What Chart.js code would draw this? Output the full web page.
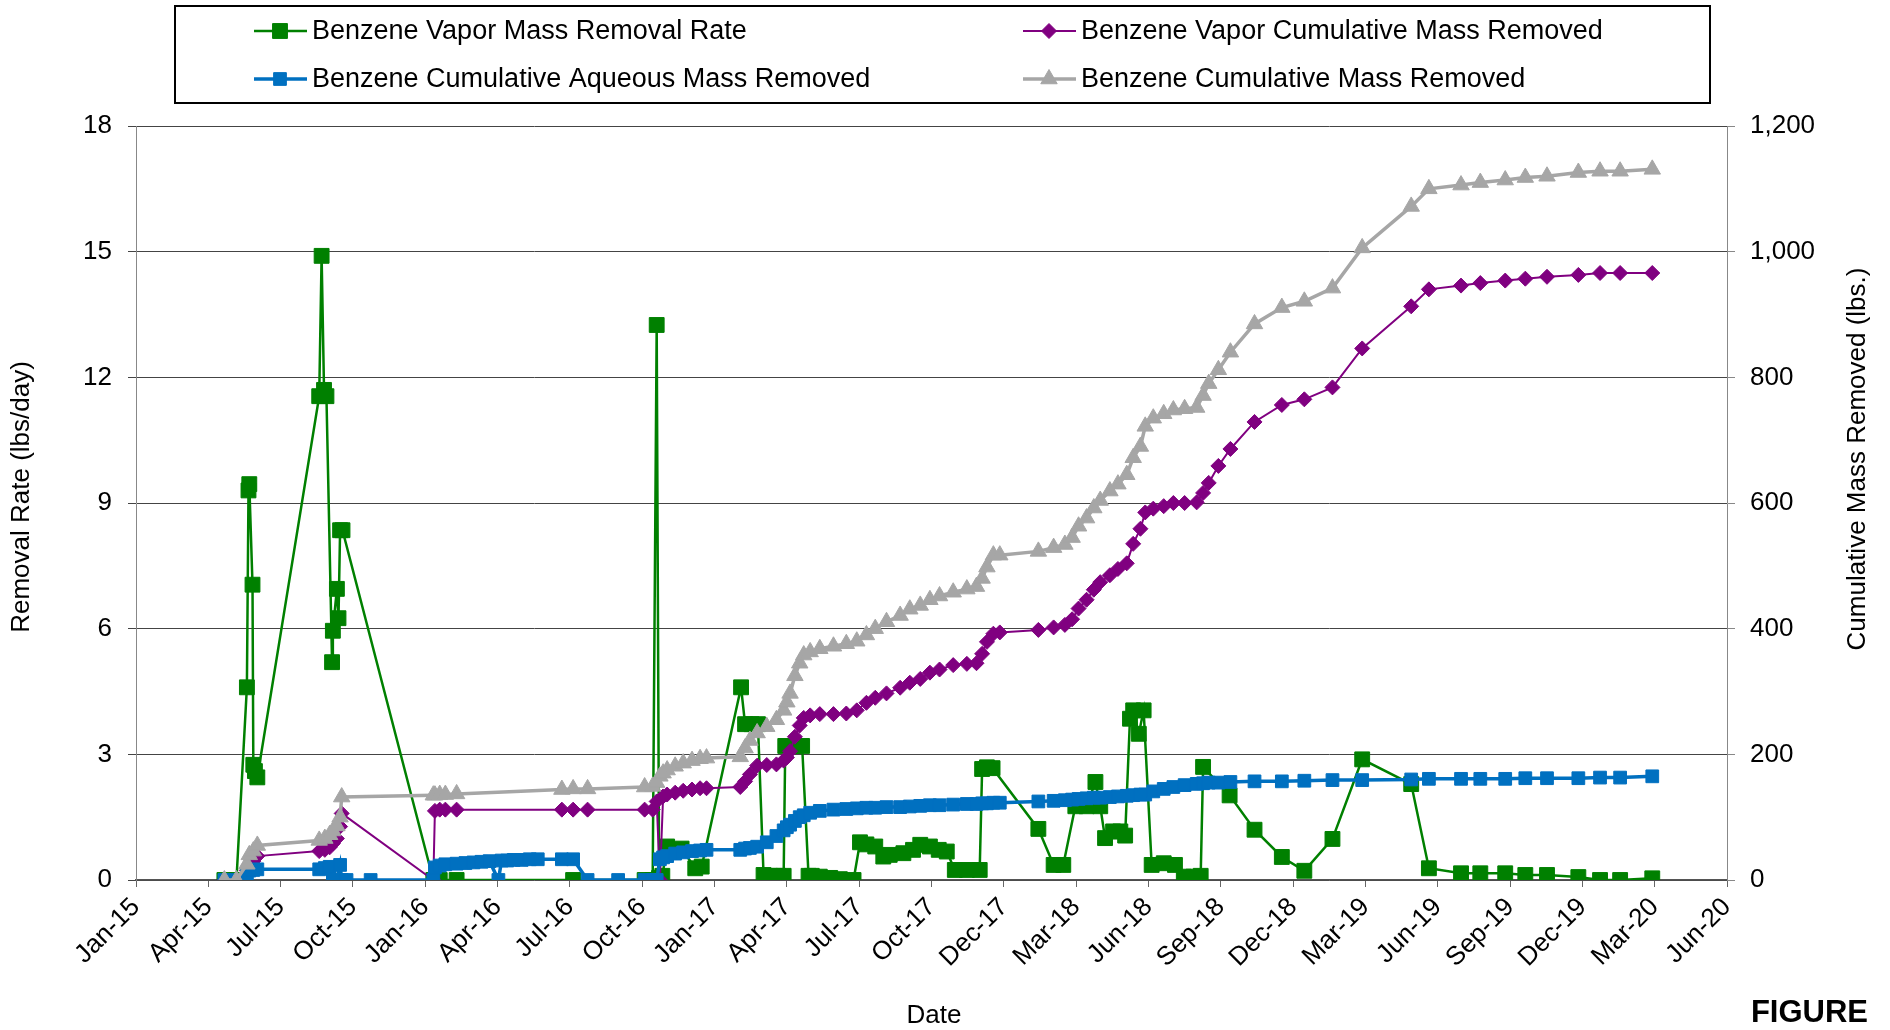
<!DOCTYPE html>
<html>
<head>
<meta charset="utf-8">
<script src="https://cdn.jsdelivr.net/npm/chart.js@4.4.0/dist/chart.umd.min.js"></script>
<style>
html,body{margin:0;padding:0;background:#fff;}
#wrap{width:1890px;height:1030px;position:relative;}
</style>
</head>
<body>
<div id="wrap"><canvas id="c" width="1890" height="1030"></canvas></div>
<script>
// ---------------- DATA ----------------
const xAxisStart = '2015-01-15';
const xAxisEnd = '2020-06-17';
const xTickDays = 90;
const xTickLabels = ['Jan-15','Apr-15','Jul-15','Oct-15','Jan-16','Apr-16','Jul-16','Oct-16','Jan-17','Apr-17','Jul-17','Oct-17','Dec-17','Mar-18','Jun-18','Sep-18','Dec-18','Mar-19','Jun-19','Sep-19','Dec-19','Mar-20','Jun-20'];

const seriesNames = [
  'Benzene Vapor Mass Removal Rate',
  'Benzene Vapor Cumulative Mass Removed',
  'Benzene Cumulative Aqueous Mass Removed',
  'Benzene Cumulative Mass Removed'
];

// Benzene vapor mass removal rate (lbs/day) - left axis
const rateDates = [
  '2015-05-05','2015-05-20','2015-06-02','2015-06-04','2015-06-05','2015-06-09','2015-06-10','2015-06-12','2015-06-15','2015-08-31',
  '2015-09-03','2015-09-06','2015-09-09','2015-09-16','2015-09-17','2015-09-22','2015-09-24','2015-09-26','2015-09-29','2016-01-20',
  '2016-01-28','2016-02-18','2016-07-12','2016-10-09','2016-10-19','2016-10-24','2016-10-27','2016-10-31','2016-11-06','2016-11-24',
  '2016-12-11','2016-12-19','2017-02-06','2017-02-11','2017-02-19','2017-02-27','2017-03-06','2017-03-14','2017-03-24','2017-03-31',
  '2017-04-02','2017-04-12','2017-04-23','2017-05-01','2017-05-05','2017-05-15','2017-05-28','2017-06-09','2017-06-26','2017-07-04',
  '2017-07-12','2017-07-23','2017-08-02','2017-08-10','2017-08-27','2017-09-08','2017-09-17','2017-09-29','2017-10-10','2017-10-20',
  '2017-10-30','2017-11-14','2017-11-30','2017-12-03','2017-12-09','2017-12-16','2018-02-11','2018-03-02','2018-03-14','2018-03-29',
  '2018-04-12','2018-04-23','2018-04-29','2018-05-05','2018-05-15','2018-05-24','2018-05-30','2018-06-05','2018-06-09','2018-06-16',
  '2018-06-22','2018-07-02','2018-07-17','2018-07-31','2018-08-11','2018-08-23','2018-09-01','2018-09-04','2018-10-07','2018-11-07',
  '2018-12-11','2019-01-08','2019-02-12','2019-03-21','2019-05-21','2019-06-12','2019-07-22','2019-08-15','2019-09-15','2019-10-10',
  '2019-11-06','2019-12-15','2020-01-11','2020-02-05','2020-03-16'
];
const vaporRate = [
  0, 0, 4.6, 9.3, 9.45, 7.05, 2.75, 2.6, 2.45, 11.55,
  14.9, 11.7, 11.55, 5.2, 5.95, 6.95, 6.25, 8.35, 8.35, 0,
  0, 0, 0, 0, 0, 13.25, 0.05, 0.1, 0.8, 0.75,
  0.28, 0.32, 4.6, 3.72, 3.72, 3.72, 0.12, 0.1, 0.1, 0.1,
  3.2, 3.2, 3.2, 0.1, 0.1, 0.08, 0.05, 0.02, 0, 0.9,
  0.85, 0.8, 0.56, 0.6, 0.64, 0.72, 0.84, 0.8, 0.72, 0.68,
  0.24, 0.24, 0.24, 2.65, 2.69, 2.67, 1.22, 0.36, 0.36, 1.76,
  1.76, 2.34, 1.76, 1.0, 1.16, 1.16, 1.06, 3.85, 4.05, 3.49,
  4.05, 0.36, 0.4, 0.36, 0.08, 0.08, 0.1, 2.7, 2.02, 1.2,
  0.55, 0.22, 0.98, 2.88, 2.29, 0.28, 0.16, 0.16, 0.16, 0.12,
  0.12, 0.07, 0, 0, 0.04
];

// Cumulative series (lbs) - right axis; null = no reading on that date
const cumDates = [
  '2015-05-05','2015-05-20','2015-06-02','2015-06-05','2015-06-10','2015-06-15','2015-08-31','2015-09-07','2015-09-13','2015-09-17',
  '2015-09-22','2015-09-26','2015-09-28','2015-10-04','2015-11-03','2016-01-20','2016-01-22','2016-01-28','2016-02-04','2016-02-18',
  '2016-02-29','2016-03-10','2016-03-20','2016-03-30','2016-04-10','2016-04-14','2016-04-21','2016-04-29','2016-05-09','2016-05-19',
  '2016-05-29','2016-06-28','2016-07-12','2016-07-30','2016-09-06','2016-10-09','2016-10-19','2016-10-24','2016-10-28','2016-11-01',
  '2016-11-06','2016-11-16','2016-11-26','2016-12-07','2016-12-17','2016-12-25','2017-02-05','2017-02-11','2017-02-17','2017-02-26',
  '2017-03-10','2017-03-22','2017-03-31','2017-04-04','2017-04-08','2017-04-14','2017-04-20','2017-04-25','2017-05-03','2017-05-15',
  '2017-06-01','2017-06-17','2017-06-30','2017-07-12','2017-07-23','2017-08-06','2017-08-23','2017-09-04','2017-09-17','2017-09-29',
  '2017-10-11','2017-10-28','2017-11-14','2017-11-26','2017-12-03','2017-12-09','2017-12-17','2017-12-25','2018-02-11','2018-03-02',
  '2018-03-16','2018-03-25','2018-04-02','2018-04-12','2018-04-21','2018-04-29','2018-05-11','2018-05-21','2018-06-01','2018-06-09',
  '2018-06-18','2018-06-24','2018-07-04','2018-07-17','2018-07-29','2018-08-12','2018-08-27','2018-09-04','2018-09-11','2018-09-23',
  '2018-10-08','2018-11-07','2018-12-11','2019-01-08','2019-02-12','2019-03-21','2019-05-21','2019-06-12','2019-07-22','2019-08-15',
  '2019-09-15','2019-10-10','2019-11-06','2019-12-15','2020-01-11','2020-02-05','2020-03-16'
];
const vaporCum = [
  0, 0, 15, 25, 30, 38, 46, 48, 52, 58,
  66, 85, 106, null, null, 0, 110, 112, 112, 112,
  null, null, null, null, null, null, null, null, null, null,
  null, 112, 112, 112, null, 112, 112, 125, 0, 133,
  136, 139, 142, 144, 146, 146, 148, 157, 168, 182,
  183, 184, 190, 195, 205, 228, 246, 258, 262, 264,
  264, 265, 270, 282, 290, 297, 306, 314, 320, 330,
  335, 342, 344, 345, 360, 379, 392, 394, 398, 402,
  406, 415, 432, 446, 462, 474, 485, 495, 504, 535,
  559, 585, 591, 595, 600, 600, 601, 616, 632, 659,
  686, 729, 756, 765, 784, 846, 913, 940, 946, 950,
  954, 957, 960, 963, 966, 966, 966
];
const aqueousCum = [
  0, 0, 10, 15, 16, 17, 17, 19, 21, 0,
  0, 24, 0, 0, 0, 0, 20, 23, 25, 26,
  27, 28, 29, 30, 0, 31, 31, 32, 32, 33,
  33, 33, 33, 0, 0, 0, 0, 0, 33, 36,
  38, 42, 44, 46, 47, 48, 48, 50, 51, 53,
  60, 70, 79, 84, 88, 94, 100, 103, 107, 110,
  112, 113, 114, 115, 115, 116, 116, 117, 118, 119,
  119, 120, 121, 121, 122, 122, 123, 123, 125, 126,
  127, 128, 129, 130, 131, 131, 132, 133, 134, 135,
  136, 136, 141, 145, 148, 151, 153, 154, 155, 155,
  156, 157, 157, 158, 159, 159, 160, 161, 161, 161,
  161, 162, 162, 162, 163, 163, 165
];
const totalCum = [
  0, 0, 25, 40, 46, 55, 63, 66, 72, 78,
  86, 100, 132, null, null, 135, 135, 136, 136, 137,
  null, null, null, null, null, null, null, null, null, null,
  null, 144, 145, 145, null, 148, 149, 155, 165, 170,
  175, 181, 186, 190, 193, 194, 196, 210, 222, 234,
  244, 255, 270, 283, 297, 325, 345, 358, 363, 368,
  372, 376, 380, 390, 400, 411, 421, 431, 437, 446,
  452, 458, 463, 467, 480, 498, 517, 517, 523, 529,
  534, 545, 563, 576, 592, 604, 619, 630, 645, 672,
  690, 722, 735, 742, 748, 750, 752, 771, 790, 812,
  840, 885, 911, 921, 942, 1006, 1072, 1100, 1106, 1110,
  1114, 1118, 1120, 1126, 1128, 1128, 1131
];

// ---------------- BUILD ----------------
const DAY = 86400000;
const toDay = s => Date.parse(s + 'T00:00:00Z') / DAY;
function pts(dates, vals) {
  const out = [];
  for (let i = 0; i < dates.length; i++) {
    if (vals[i] !== null && vals[i] !== undefined) out.push({x: toDay(dates[i]), y: vals[i]});
  }
  return out;
}

const FONT = '"Liberation Sans", Arial, Helvetica, sans-serif';
Chart.defaults.font.family = FONT;
Chart.defaults.font.size = 26;
Chart.defaults.color = '#000';

const styles = [
  {color: '#008000', width: 2.5, pointStyle: 'rect', radius: 10.5, order: 4, axis: 'y'},
  {color: '#800080', width: 2, pointStyle: 'rectRot', radius: 7.5, order: 3, axis: 'y1'},
  {color: '#0070C0', width: 3.5, pointStyle: 'rect', radius: 9, order: 2, axis: 'y1'},
  {color: '#A6A6A6', width: 3.5, pointStyle: 'triangle', radius: 9.5, order: 1, axis: 'y1'}
];
const seriesData = [
  pts(rateDates, vaporRate),
  pts(cumDates, vaporCum),
  pts(cumDates, aqueousCum),
  pts(cumDates, totalCum)
];

const datasets = seriesNames.map((name, i) => ({
  label: name,
  data: seriesData[i],
  yAxisID: styles[i].axis,
  borderColor: styles[i].color,
  backgroundColor: styles[i].color,
  borderWidth: styles[i].width,
  pointStyle: styles[i].pointStyle,
  pointRadius: styles[i].radius,
  pointBackgroundColor: styles[i].color,
  pointBorderColor: styles[i].color,
  pointBorderWidth: 1,
  tension: 0,
  order: styles[i].order
}));

const decorPlugin = {
  id: 'decor',
  afterDraw(chart) {
    const ctx = chart.ctx;
    ctx.save();
    // Legend box
    ctx.strokeStyle = '#000';
    ctx.lineWidth = 2;
    ctx.strokeRect(175, 6, 1535, 97);
    const slots = [
      {x: 254, y: 31}, {x: 1023, y: 31},
      {x: 254, y: 79}, {x: 1023, y: 79}
    ];
    ctx.font = '27px ' + FONT;
    ctx.textBaseline = 'middle';
    ctx.textAlign = 'left';
    chart.data.datasets.forEach((ds, i) => {
      const s = slots[i];
      ctx.strokeStyle = ds.borderColor;
      ctx.lineWidth = ds.borderWidth;
      ctx.beginPath();
      ctx.moveTo(s.x, s.y);
      ctx.lineTo(s.x + 53, s.y);
      ctx.stroke();
      ctx.fillStyle = ds.pointBackgroundColor;
      ctx.strokeStyle = ds.pointBorderColor;
      ctx.lineWidth = 1;
      Chart.helpers.drawPoint(ctx, {pointStyle: ds.pointStyle, radius: ds.pointRadius, rotation: 0, borderWidth: 1}, s.x + 26, s.y);
      ctx.fillStyle = '#000';
      ctx.fillText(ds.label, s.x + 58, s.y + 1);
    });
    // Axis titles
    ctx.fillStyle = '#000';
    ctx.font = '26px ' + FONT;
    ctx.textAlign = 'center';
    ctx.textBaseline = 'middle';
    ctx.save();
    ctx.translate(22, 497);
    ctx.rotate(-Math.PI / 2);
    ctx.fillText('Removal Rate (lbs/day)', 0, 0);
    ctx.restore();
    ctx.save();
    ctx.translate(1858, 459);
    ctx.rotate(-Math.PI / 2);
    ctx.fillText('Cumulative Mass Removed (lbs.)', 0, 0);
    ctx.restore();
    ctx.fillText('Date', 934, 1016);
    // FIGURE
    ctx.font = 'bold 31px ' + FONT;
    ctx.textAlign = 'right';
    ctx.textBaseline = 'alphabetic';
    ctx.fillText('FIGURE', 1868, 1022);
    ctx.restore();
  }
};

new Chart(document.getElementById('c'), {
  type: 'line',
  data: {datasets},
  options: {
    responsive: false,
    animation: false,
    devicePixelRatio: 1,
    layout: {padding: {top: 126, left: 0, right: 0, bottom: 0}},
    plugins: {legend: {display: false}, tooltip: {enabled: false}},
    scales: {
      x: {
        type: 'linear',
        min: toDay(xAxisStart),
        max: toDay(xAxisEnd),
        afterFit: s => { s.height = 150; },
        ticks: {
          stepSize: xTickDays,
          autoSkip: false,
          maxRotation: 45,
          minRotation: 45,
          padding: 5,
          font: {size: 26},
          callback: (v, i) => xTickLabels[i]
        },
        grid: {drawOnChartArea: false, drawTicks: true, tickLength: 7, color: '#666'},
        border: {display: true, color: '#555', width: 1.5},
        title: {display: false}
      },
      y: {
        position: 'left',
        min: 0, max: 18,
        afterFit: s => { s.width = 136; },
        ticks: {stepSize: 3, padding: 16, font: {size: 26}},
        grid: {color: '#444', lineWidth: 1, drawTicks: true, tickLength: 8},
        border: {display: true, color: '#888', width: 1}
      },
      y1: {
        position: 'right',
        min: 0, max: 1200,
        afterFit: s => { s.width = 163; },
        ticks: {stepSize: 200, padding: 15, font: {size: 26},
          callback: v => v.toLocaleString('en-US')},
        grid: {drawOnChartArea: false, drawTicks: true, tickLength: 8, color: '#888'},
        border: {display: true, color: '#888', width: 1}
      }
    }
  },
  plugins: [decorPlugin]
});
</script>
</body>
</html>
